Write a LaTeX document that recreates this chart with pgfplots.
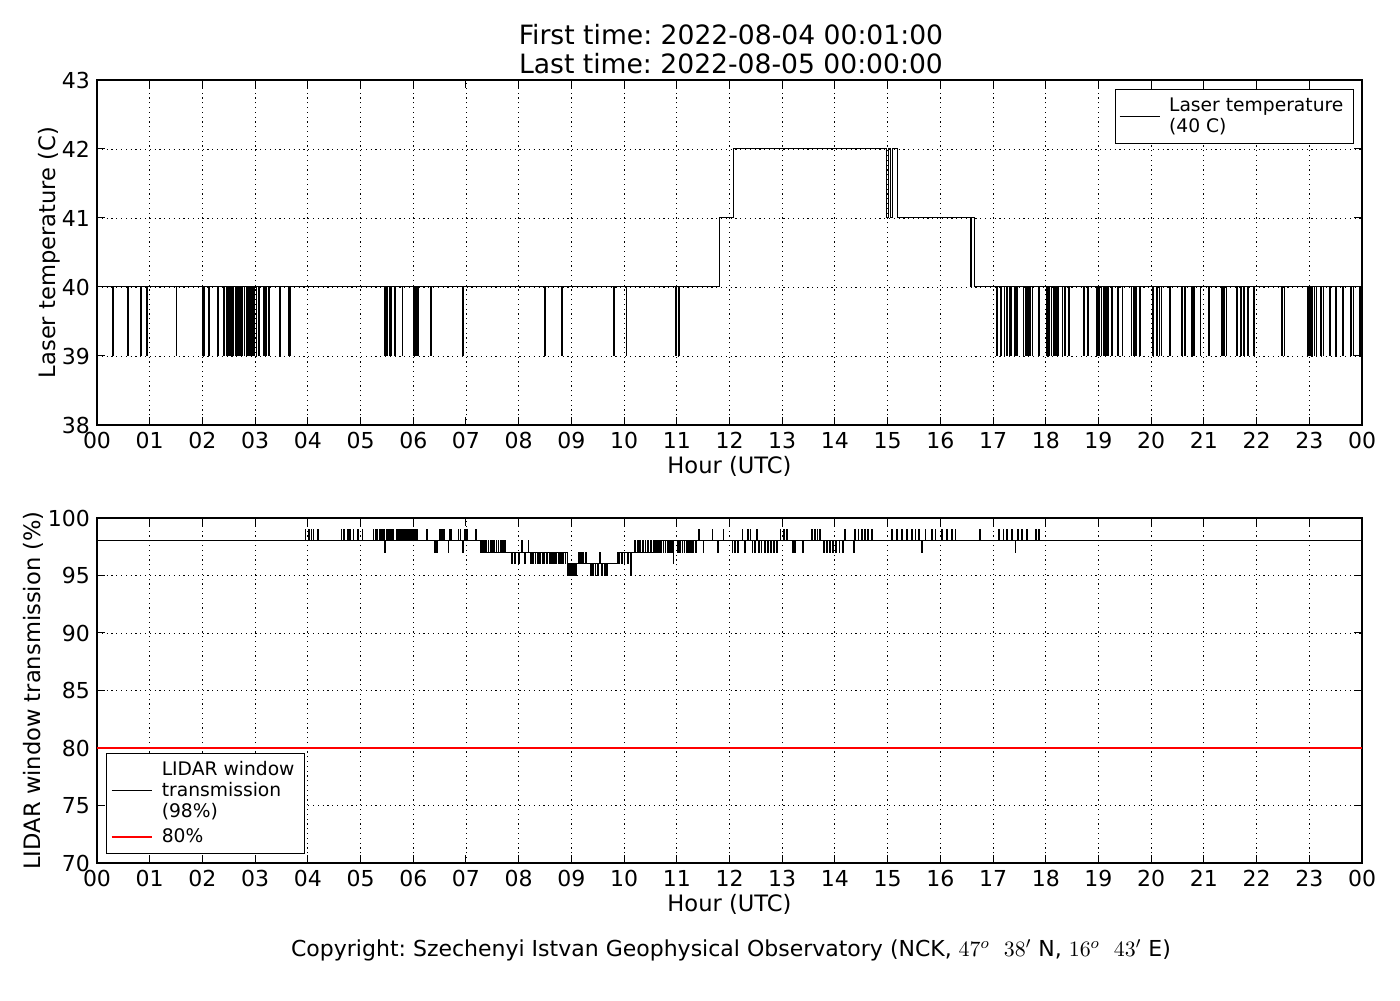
\documentclass[border=0pt]{standalone}
\usepackage{fontspec}
\setmainfont{DejaVu Sans}
\usepackage{pgfplots}
\pgfplotsset{compat=1.18}
\frenchspacing
\pgfplotsset{
  myaxis/.style={
    scale only axis, width=632.5pt, height=172.5pt,
    xmin=0, xmax=24, xtick={0,...,24},
    xticklabels={00,01,02,03,04,05,06,07,08,09,10,11,12,13,14,15,16,17,18,19,20,21,22,23,00},
    grid=major,
    major grid style={black, line width=0.45pt, dash pattern=on 0.6pt off 1.8pt},
    tick align=inside, major tick length=4pt,
    tick style={black, line width=0.5pt},
    axis line style={line width=0.6pt},
    ticklabel style={font=\fontsize{11}{12}\selectfont},
    label style={font=\fontsize{11.3}{13}\selectfont},
    /pgf/number format/assume math mode=true,
    xlabel={Hour (UTC)},
    xlabel style={yshift=3pt},
    legend style={font=\fontsize{9.35}{10.5}\selectfont, cells={align=left},
      draw=black, line width=0.6pt, inner xsep=2pt, inner ysep=2pt},
    legend cell align=left,
    legend image code/.code={\draw[##1] (0pt,0pt) -- (20pt,0pt);},
    legend style={nodes={inner xsep=3pt}, column sep=1.5pt},
  }
}
\begin{document}
\begin{tikzpicture}[x=1pt,y=1pt]
\path (0,0) rectangle (700,500);
\node[font=\fontsize{13.3}{15}\selectfont] at (365.5,482.5) {First time: 2022-08-04 00:01:00};
\node[font=\fontsize{13.3}{15}\selectfont] at (365.5,468) {Last time: 2022-08-05 00:00:00};
\node[font=\fontsize{11}{12}\selectfont] at (365.5,25) {Copyright: Szechenyi Istvan Geophysical Observatory (NCK, $47^o\ \ 38'$ N, $16^o\ \ 43'$ E)};

\begin{axis}[myaxis, at={(48.5pt,287.5pt)}, anchor=south west,
  ymin=38, ymax=43, ytick={38,39,40,41,42,43},
  ylabel={Laser temperature (C)}, ylabel shift=-6pt,
  legend style={at={(1,1)}, xshift=-4pt, yshift=-4.5pt, anchor=north east}]
\addplot[black, line width=0.5pt, const plot] coordinates {
(0,39)(0.015,40)
(0.30,39)(0.315,40)(0.58,39)(0.595,40)(0.82,39)(0.835,40)(0.94,39)(0.955,40)
(1.50,39)(1.515,40)(2.00,39)(2.015,40)(2.03,39)(2.045,40)(2.12,39)(2.135,40)
(2.29,39)(2.305,40)(2.40,39)(2.415,40)(2.46,39)(2.475,40)(2.50,39)(2.51,40)
(2.52,39)(2.535,40)(2.56,39)(2.57,40)(2.58,39)(2.595,40)(2.62,39)(2.63,40)
(2.64,39)(2.655,40)(2.67,39)(2.68,40)(2.69,39)(2.705,40)(2.72,39)(2.735,40)
(2.75,39)(2.765,40)(2.79,39)(2.805,40)(2.84,39)(2.855,40)(2.87,39)(2.885,40)
(2.90,39)(2.915,40)(2.94,39)(2.955,40)(2.97,39)(2.985,40)(3.02,39)(3.035,40)
(3.06,39)(3.075,40)(3.16,39)(3.175,40)(3.20,39)(3.215,40)(3.26,39)(3.275,40)
(3.47,39)(3.485,40)(3.63,39)(3.645,40)(3.66,39)(3.675,40)
(5.45,39)(5.465,40)(5.50,39)(5.515,40)(5.55,39)(5.565,40)(5.58,39)(5.595,40)
(5.64,39)(5.655,40)(5.79,39)(5.805,40)(6.01,39)(6.025,40)(6.04,39)(6.055,40)
(6.08,39)(6.095,40)(6.33,39)(6.345,40)(6.93,39)(6.945,40)(8.49,39)(8.505,40)
(8.81,39)(8.825,40)(9.80,39)(9.815,40)(10.04,39)(10.055,40)(10.97,39)(10.985,40)
(11.03,39)(11.045,40)
(11.81,41)(12.08,42)(14.97,41)(15.01,42)(15.06,41)(15.09,42)(15.18,41)
(16.57,40)(16.60,41)(16.64,40)
(17.07,39)(17.085,40)(17.15,39)(17.165,40)(17.21,39)(17.225,40)(17.26,39)(17.275,40)
(17.31,39)(17.325,40)(17.34,39)(17.355,40)(17.41,39)(17.425,40)(17.45,39)(17.465,40)
(17.57,39)(17.585,40)(17.61,39)(17.625,40)(17.66,39)(17.675,40)(17.70,39)(17.715,40)
(17.74,39)(17.755,40)(17.86,39)(17.875,40)(18.02,39)(18.035,40)(18.06,39)(18.075,40)
(18.10,39)(18.115,40)(18.15,39)(18.165,40)(18.19,39)(18.205,40)(18.23,39)(18.245,40)
(18.31,39)(18.325,40)(18.35,39)(18.365,40)(18.43,39)(18.445,40)(18.72,39)(18.735,40)
(18.80,39)(18.815,40)(18.96,39)(18.975,40)(19.00,39)(19.015,40)(19.05,39)(19.065,40)
(19.09,39)(19.105,40)(19.13,39)(19.145,40)(19.17,39)(19.185,40)(19.25,39)(19.265,40)
(19.37,39)(19.385,40)(19.45,39)(19.465,40)(19.62,39)(19.635,40)(19.66,39)(19.675,40)
(19.70,39)(19.715,40)(19.78,39)(19.795,40)(20.03,39)(20.045,40)(20.11,39)(20.125,40)
(20.15,39)(20.165,40)(20.19,39)(20.205,40)(20.35,39)(20.365,40)(20.58,39)(20.595,40)
(20.64,39)(20.655,40)(20.76,39)(20.775,40)(20.80,39)(20.815,40)(20.93,39)(20.945,40)
(21.09,39)(21.105,40)(21.34,39)(21.355,40)(21.38,39)(21.395,40)(21.42,39)(21.435,40)
(21.62,39)(21.635,40)(21.70,39)(21.715,40)(21.76,39)(21.775,40)(21.83,39)(21.845,40)
(21.95,39)(21.965,40)(22.48,39)(22.495,40)(22.52,39)(22.535,40)(22.97,39)(22.985,40)
(23.01,39)(23.025,40)(23.05,39)(23.065,40)(23.09,39)(23.105,40)(23.13,39)(23.145,40)
(23.22,39)(23.235,40)(23.26,39)(23.275,40)(23.38,39)(23.395,40)(23.50,39)(23.515,40)
(23.63,39)(23.645,40)(23.79,39)(23.805,40)(23.83,39)(23.845,40)(23.95,39)(23.965,40)
(24,40)
};
\addlegendentry{Laser temperature\\(40 C)}
\end{axis}

\begin{axis}[myaxis, at={(48.5pt,68.5pt)}, anchor=south west,
  ymin=70, ymax=100, ytick={70,75,80,85,90,95,100},
  ylabel={LIDAR window transmission (\%)}, ylabel shift=-4.5pt,
  legend style={at={(0,0)}, xshift=4.5pt, yshift=4.5pt, anchor=south west}]
\addplot[black, line width=0.5pt, const plot] coordinates {
(0,98)
(3.95,99)(3.965,98)(4.01,99)(4.025,98)(4.06,99)(4.075,98)(4.10,99)(4.115,98)(4.18,99)(4.195,98)
(4.63,99)(4.645,98)(4.68,99)(4.695,98)(4.75,99)(4.765,98)(4.79,99)(4.805,98)(4.86,99)(4.875,98)
(4.94,99)(4.955,98)(5.03,99)(5.045,98)(5.24,99)(5.255,98)(5.28,99)(5.295,98)(5.31,99)(5.325,98)
(5.36,99)(5.375,98)(5.40,99)(5.415,98)(5.43,99)(5.445,98)(5.46,97)(5.475,98)(5.49,99)(5.505,98)
(5.52,99)(5.535,98)(5.55,99)(5.565,98)(5.58,99)(5.595,98)(5.61,99)(5.625,98)(5.69,99)(5.705,98)
(5.72,99)(5.735,98)(5.76,99)(5.775,98)(5.79,99)(5.805,98)(5.82,99)(5.835,98)(5.86,99)(5.875,98)
(5.89,99)(5.905,98)(5.92,99)(5.935,98)(5.95,99)(5.965,98)(5.99,99)(6.005,98)(6.02,99)(6.035,98)
(6.06,99)(6.075,98)(6.26,99)(6.275,98)(6.41,97)(6.425,98)(6.44,97)(6.455,98)(6.50,99)(6.515,98)
(6.54,99)(6.555,98)(6.57,99)(6.585,98)(6.66,97)(6.675,98)(6.69,99)(6.705,98)(6.72,99)(6.735,98)
(6.85,99)(6.865,98)(6.89,99)(6.905,98)(6.93,97)(6.945,98)(6.97,99)(6.985,98)(7.01,99)(7.025,98)
(7.18,99)(7.195,98)
(7.27,97)
(7.30,98)(7.315,97)(7.34,98)(7.355,97)(7.38,98)(7.395,97)(7.42,98)(7.435,97)(7.46,98)(7.475,97)
(7.50,98)(7.515,97)(7.53,98)(7.545,97)(7.57,98)(7.585,97)(7.61,98)(7.625,97)(7.65,98)(7.665,97)
(7.69,98)(7.705,97)(7.73,98)(7.745,97)
(7.87,96)(7.885,97)(7.93,96)(7.945,97)(8.00,96)(8.015,97)(8.06,98)(8.075,97)(8.12,96)(8.135,97)
(8.18,98)(8.195,97)(8.22,96)(8.235,97)(8.27,96)(8.285,97)(8.31,96)(8.325,97)(8.36,96)(8.375,97)
(8.40,96)(8.415,97)(8.45,96)(8.465,97)(8.48,96)(8.495,97)(8.53,96)(8.545,97)(8.58,96)(8.595,97)
(8.62,96)(8.635,97)(8.66,96)(8.675,97)(8.70,96)(8.715,97)(8.76,96)(8.775,97)(8.80,96)(8.815,97)
(8.84,96)(8.855,97)(8.88,96)(8.895,97)
(8.92,96)
(8.93,95)(8.945,96)(8.96,95)(8.975,96)(9.00,95)(9.015,96)(9.04,95)(9.055,96)(9.08,95)(9.095,96)
(9.14,97)(9.155,96)(9.18,97)(9.195,96)(9.22,97)(9.235,96)(9.27,97)(9.285,96)
(9.36,95)(9.375,96)(9.40,95)(9.415,96)(9.45,95)(9.465,96)(9.50,95)(9.515,96)(9.54,97)(9.555,96)
(9.58,95)(9.595,96)(9.63,95)(9.645,96)(9.67,95)(9.685,96)
(9.87,97)
(9.90,96)(9.915,97)(9.95,96)(9.965,97)(10.00,96)(10.015,97)(10.06,96)(10.075,97)(10.13,95)(10.145,97)
(10.20,98)(10.215,97)(10.25,98)(10.265,97)(10.30,98)(10.315,97)(10.35,98)(10.365,97)
(10.40,98)(10.415,97)(10.45,98)(10.465,97)(10.50,98)(10.515,97)
(10.55,98)
(10.58,97)(10.595,98)(10.62,97)(10.635,98)(10.66,97)(10.675,98)(10.70,97)(10.715,98)
(10.74,97)(10.755,98)(10.78,97)(10.795,98)(10.82,97)(10.835,98)(10.86,97)(10.875,98)
(10.90,97)(10.915,98)(10.93,96)(10.945,98)
(11.02,97)(11.035,98)(11.06,97)(11.075,98)(11.10,97)(11.115,98)(11.14,97)(11.155,98)
(11.18,97)(11.195,98)(11.22,97)(11.235,98)(11.26,97)(11.275,98)(11.30,97)(11.315,98)
(11.36,97)(11.375,98)(11.42,99)(11.435,98)(11.50,97)(11.515,98)(11.67,99)(11.685,98)
(11.78,97)(11.795,98)(11.88,99)(11.895,98)(12.05,97)(12.065,98)(12.10,97)(12.115,98)
(12.15,97)(12.165,98)(12.24,99)(12.255,98)(12.29,97)(12.305,98)(12.34,99)(12.355,98)
(12.39,99)(12.405,98)(12.43,97)(12.445,98)(12.48,97)(12.495,98)(12.51,99)(12.525,98)
(12.55,97)(12.565,98)(12.60,97)(12.615,98)(12.66,97)(12.675,98)(12.72,97)(12.735,98)
(12.78,97)(12.795,98)(12.84,97)(12.855,98)(12.90,97)(12.915,98)(12.96,99)(12.975,98)
(13.02,99)(13.035,98)(13.08,99)(13.095,98)(13.19,97)(13.205,98)(13.24,97)(13.255,98)
(13.39,97)(13.405,98)(13.56,99)(13.575,98)(13.61,99)(13.625,98)(13.66,99)(13.675,98)
(13.71,99)(13.725,98)(13.78,97)(13.795,98)(13.84,97)(13.855,98)(13.90,97)(13.915,98)
(13.95,97)(13.965,98)(14.02,97)(14.035,98)(14.08,97)(14.095,98)(14.14,97)(14.155,98)
(14.19,99)(14.205,98)(14.35,97)(14.365,98)(14.38,99)(14.395,98)(14.44,99)(14.455,98)
(14.50,99)(14.515,98)(14.56,99)(14.575,98)(14.62,99)(14.635,98)(14.70,99)(14.715,98)
(15.08,99)(15.095,98)(15.17,99)(15.185,98)(15.27,99)(15.285,98)(15.36,99)(15.375,98)
(15.46,99)(15.475,98)(15.52,99)(15.535,98)(15.58,99)(15.595,98)(15.65,97)(15.665,98)
(15.71,99)(15.725,98)(15.84,99)(15.855,98)(15.90,99)(15.915,98)(16.03,99)(16.045,98)
(16.12,99)(16.135,98)(16.22,99)(16.235,98)(16.28,99)(16.295,98)(16.75,99)(16.765,98)
(17.11,99)(17.125,98)(17.19,99)(17.205,98)(17.26,99)(17.275,98)(17.35,99)(17.365,98)
(17.42,97)(17.435,98)(17.47,99)(17.485,98)(17.54,99)(17.555,98)(17.64,99)(17.655,98)
(17.80,99)(17.815,98)(17.86,99)(17.875,98)
(24,98)
};
\addlegendentry{LIDAR window\\transmission\\(98\%)}
\addplot[red, line width=1.1pt] coordinates {(0,80)(24,80)};
\addlegendentry{80\%}
\end{axis}
\end{tikzpicture}
\end{document}
